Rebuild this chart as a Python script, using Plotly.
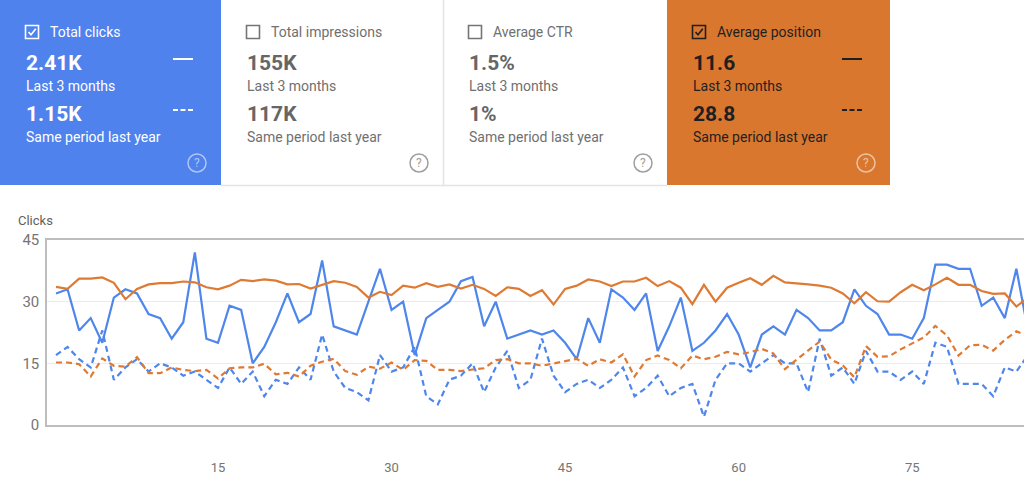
import plotly.graph_objects as go

# ---------------- data ----------------
days = list(range(1, 86))

clicks_current = [32, 33, 23, 26, 20, 31, 33, 32, 27, 26, 21, 25, 42, 21, 20,
                  29, 28, 15, 19, 25, 32, 25, 27, 40, 24, 23, 22, 30, 38, 28,
                  30, 17, 26, 28, 30, 35, 36, 24, 30, 21, 22, 23, 22, 23, 20,
                  16, 26, 20, 33, 31, 28, 32, 18, 24, 31, 18, 20, 23, 27, 22,
                  14, 22, 24, 22, 28, 26, 23, 23, 25, 33, 29, 27, 22, 22, 21,
                  26, 39, 39, 38, 38, 29, 31, 26, 38, 23]

clicks_last_year = [17, 19, 16, 14, 23, 11, 14, 16, 13, 15, 14, 12, 13, 11, 9,
                    14, 10, 13, 7, 11, 10, 14, 11, 22, 13, 9, 8, 6, 17, 13,
                    14, 19, 7, 5, 11, 12, 15, 8, 14, 18, 9, 11, 21, 12, 8,
                    10, 11, 9, 11, 14, 7, 9, 12, 7, 9, 10, 2, 11, 15, 15,
                    13, 15, 17, 15, 15, 8, 21, 12, 14, 10, 18, 13, 13, 11, 13,
                    10, 20, 19, 10, 10, 10, 7, 14, 13, 17]

position_current = [11.4, 11.9, 9.4, 9.4, 9.1, 10.4, 14.4, 11.9, 10.8, 10.5,
                    10.5, 10.1, 10.3, 11.5, 12.0, 11.1, 9.7, 10.0, 9.6, 9.9,
                    10.8, 10.7, 11.8, 10.9, 10.0, 10.4, 11.4, 14.0, 12.6, 13.4,
                    11.1, 11.6, 10.5, 11.4, 10.8, 11.8, 10.9, 11.9, 13.6, 11.5,
                    11.9, 13.6, 12.2, 15.7, 11.9, 11.1, 9.6, 10.1, 11.2, 10.1,
                    10.1, 9.2, 11.2, 10.0, 11.6, 15.6, 10.9, 15.0, 11.6, 10.4,
                    9.3, 10.9, 8.7, 10.3, 10.5, 10.8, 11.1, 11.6, 13.0, 15.4,
                    12.7, 14.9, 15.0, 12.7, 10.9, 12.2, 10.8, 9.2, 10.9, 10.9,
                    12.4, 13.1, 13.0, 16.2, 14.0]

position_last_year = [29.8, 29.8, 30.2, 33.2, 28.8, 30.6, 30.8, 28.5, 32.4, 32.4,
                      31.0, 31.6, 31.9, 31.6, 33.7, 31.2, 31.0, 31.0, 30.1, 32.7,
                      32.3, 33.2, 30.6, 29.6, 28.9, 31.9, 32.8, 30.8, 31.3, 29.8,
                      31.6, 29.2, 29.4, 31.6, 31.6, 31.9, 31.5, 31.2, 29.2, 29.0,
                      30.0, 30.0, 30.6, 30.0, 29.4, 28.9, 30.6, 29.0, 29.8, 27.8,
                      33.2, 29.2, 28.1, 29.2, 31.2, 28.1, 29.0, 28.4, 27.2, 27.8,
                      27.3, 26.5, 27.6, 31.4, 29.1, 26.9, 24.7, 29.1, 30.5, 33.4,
                      25.8, 28.4, 28.3, 26.6, 25.1, 23.7, 20.9, 23.2, 28.1, 25.6,
                      25.5, 26.9, 24.3, 22.2, 23.4]

x_ticks = [15, 30, 45, 60, 75]
y_ticks = [0, 15, 30, 45]

cards = [
    dict(title="Total clicks", cur="2.41K", prev="1.15K", checked=True),
    dict(title="Total impressions", cur="155K", prev="117K", checked=False),
    dict(title="Average CTR", cur="1.5%", prev="1%", checked=False),
    dict(title="Average position", cur="11.6", prev="28.8", checked=True),
]
cur_label = "Last 3 months"
prev_label = "Same period last year"

# ---------------- style ----------------
W, H = 1024, 500
BLUE = "#4f82ec"
ORANGE = "#d9772f"
LINE_BLUE = "#4e86ec"
LINE_ORANGE = "#de7a33"
FONT = "Roboto"


def px(x):
    return x / W


def py(y):
    return 1 - y / H


fig = go.Figure()

fig.add_trace(go.Scatter(x=days, y=clicks_last_year, mode="lines",
                         line=dict(color=LINE_BLUE, width=2.2, dash="6px,4px"),
                         yaxis="y", hoverinfo="skip"))
fig.add_trace(go.Scatter(x=days, y=position_last_year, mode="lines",
                         line=dict(color=LINE_ORANGE, width=2.2, dash="6px,4px"),
                         yaxis="y2", hoverinfo="skip"))
fig.add_trace(go.Scatter(x=days, y=position_current, mode="lines",
                         line=dict(color=LINE_ORANGE, width=2.2),
                         yaxis="y2", hoverinfo="skip"))
fig.add_trace(go.Scatter(x=days, y=clicks_current, mode="lines",
                         line=dict(color=LINE_BLUE, width=2.2),
                         yaxis="y", hoverinfo="skip"))

shapes = []
annotations = []

card_edges = [(0, 221), (221, 443), (443, 667), (667, 890)]
for i, (card, (x0, x1)) in enumerate(zip(cards, card_edges)):
    if i == 0:
        bg, txt, sub, box, help_c = BLUE, "#ffffff", "#ffffff", "#ffffff", "rgba(255,255,255,0.55)"
    elif i == 3:
        bg, txt, sub, box, help_c = ORANGE, "#1f1f1f", "#1f1f1f", "#1f1f1f", "rgba(255,255,255,0.55)"
    else:
        bg, txt, sub, box, help_c = "#ffffff", "#666666", "#707070", "#757575", "#9e9e9e"
    shapes.append(dict(type="rect", xref="paper", yref="paper",
                       x0=px(x0), x1=px(x1), y0=py(185), y1=py(0),
                       fillcolor=bg, line=dict(width=0), layer="below"))
    # checkbox
    shapes.append(dict(type="rect", xref="paper", yref="paper",
                       x0=px(x0 + 25.5), x1=px(x0 + 38.5), y0=py(38.5), y1=py(25.5),
                       line=dict(color=box, width=1.6), fillcolor="rgba(0,0,0,0)"))
    if card["checked"]:
        path = "M {} {} L {} {} L {} {}".format(
            px(x0 + 28.5), py(32), px(x0 + 31), py(34.8), px(x0 + 35.8), py(28.8))
        shapes.append(dict(type="path", xref="paper", yref="paper", path=path,
                           line=dict(color=box, width=1.6)))
        # legend line markers
        shapes.append(dict(type="line", xref="paper", yref="paper",
                           x0=px(x1 - 48), x1=px(x1 - 28), y0=py(59), y1=py(59),
                           line=dict(color=txt, width=2)))
        shapes.append(dict(type="line", xref="paper", yref="paper",
                           x0=px(x1 - 48), x1=px(x1 - 28), y0=py(110), y1=py(110),
                           line=dict(color=txt, width=2, dash="5px,2.5px")))
    # help icon
    shapes.append(dict(type="circle", xref="paper", yref="paper",
                       x0=px(x1 - 33), x1=px(x1 - 15), y0=py(172), y1=py(154),
                       line=dict(color=help_c, width=1.5)))
    annotations.append(dict(x=px(x1 - 24), y=py(163.5), xref="paper", yref="paper",
                            text="?", showarrow=False, xanchor="center", yanchor="middle",
                            font=dict(family=FONT, size=12, color=help_c)))
    annotations.append(dict(x=px(x0 + 48), y=py(32), xref="paper", yref="paper",
                            text=card["title"], showarrow=False, xanchor="left", yanchor="middle",
                            font=dict(family=FONT, size=14, color=sub)))
    annotations.append(dict(x=px(x0 + 24), y=py(63), xref="paper", yref="paper",
                            text="<b>" + card["cur"] + "</b>", showarrow=False,
                            xanchor="left", yanchor="middle",
                            font=dict(family=FONT, size=21, color=txt)))
    annotations.append(dict(x=px(x0 + 24), y=py(86), xref="paper", yref="paper",
                            text=cur_label, showarrow=False, xanchor="left", yanchor="middle",
                            font=dict(family=FONT, size=14, color=sub)))
    annotations.append(dict(x=px(x0 + 24), y=py(114), xref="paper", yref="paper",
                            text="<b>" + card["prev"] + "</b>", showarrow=False,
                            xanchor="left", yanchor="middle",
                            font=dict(family=FONT, size=21, color=txt)))
    annotations.append(dict(x=px(x0 + 24), y=py(137), xref="paper", yref="paper",
                            text=prev_label, showarrow=False, xanchor="left", yanchor="middle",
                            font=dict(family=FONT, size=14, color=sub)))

# borders of white cards
shapes.append(dict(type="line", xref="paper", yref="paper",
                   x0=px(221), x1=px(667), y0=py(185.5), y1=py(185.5),
                   line=dict(color="#e3e3e3", width=1.5)))
shapes.append(dict(type="line", xref="paper", yref="paper",
                   x0=px(443.5), x1=px(443.5), y0=py(0), y1=py(185),
                   line=dict(color="#e3e3e3", width=1.5)))

annotations.append(dict(x=px(16), y=py(221), xref="paper", yref="paper",
                        text="Clicks", showarrow=False, xanchor="left", yanchor="middle",
                        font=dict(family=FONT, size=13, color="#616161")))

fig.update_layout(
    width=W, height=H,
    margin=dict(l=0, r=0, t=0, b=0),
    paper_bgcolor="white", plot_bgcolor="white",
    showlegend=False,
    shapes=shapes,
    annotations=annotations,
    xaxis=dict(domain=[47 / W, 1], range=[0.222, 84.66],
               tickvals=x_ticks, ticks="", showgrid=False, zeroline=False,
               showline=True, mirror=True, linecolor="#bdbdbd", linewidth=1.5,
               tickfont=dict(family=FONT, size=13, color="#757575"),
               ticklabelstandoff=30, automargin=False),
    yaxis=dict(domain=[75 / H, 260 / H], range=[0, 45], tickvals=y_ticks,
               ticks="", showgrid=True, gridcolor="#ececec", gridwidth=1,
               zeroline=False, showline=True, linecolor="#bdbdbd", linewidth=1.5,
               tickfont=dict(family=FONT, size=15, color="#757575"),
               ticklabelstandoff=3, automargin=False),
    yaxis2=dict(overlaying="y", side="right", range=[45, 0], showgrid=False,
                zeroline=False, showline=False, showticklabels=False, ticks=""),
)

fig.write_html("out.html", config={"displayModeBar": False},
               post_script="document.body.style.margin='0';")
